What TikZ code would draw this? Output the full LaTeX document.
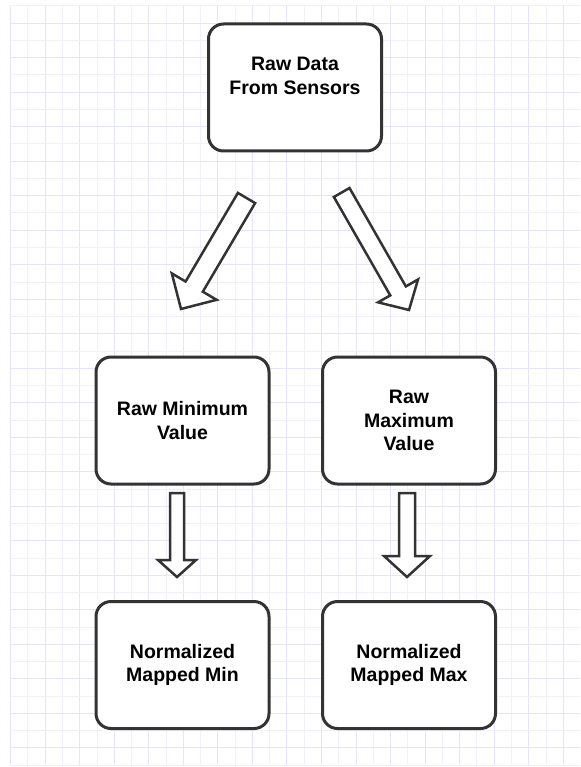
\documentclass[tikz,border=0pt]{standalone}
\usepackage{fontspec}
\setmainfont{Liberation Sans}
\usetikzlibrary{calc}
\definecolor{gridmaj}{RGB}{228,228,250}
\definecolor{gridmin}{RGB}{240,240,253}
\definecolor{edge}{RGB}{51,51,51}
\tikzset{
  box/.style={draw=edge, line width=3pt, rounded corners=15pt, fill=white,
    minimum width=173pt, minimum height=127pt, align=center, inner sep=0pt,
    font=\fontsize{19.5}{23.5}\selectfont\bfseries},
  barrow/.style={draw=edge, line width=2.5pt, fill=white, line join=miter},
  gmaj/.style={draw=gridmaj, line width=1pt},
  gmin/.style={draw=gridmin, line width=1pt},
}
% block arrow: #1 tail, #2 tip, #3 shaft half width, #4 head half width, #5 head length
\newcommand\blockarrow[5]{%
  \coordinate (ba-h) at ($(#2)!#5!(#1)$);
  \draw[barrow] ($(#1)!#3!90:(#2)$) -- ($(ba-h)!#3!90:(#2)$) -- ($(ba-h)!#4!90:(#2)$)
    -- (#2) -- ($(ba-h)!#4!-90:(#2)$) -- ($(ba-h)!#3!-90:(#2)$) -- ($(#1)!#3!-90:(#2)$) -- cycle;}
\begin{document}
\begin{tikzpicture}[x=1pt,y=-1pt]
\useasboundingbox (0,0) rectangle (580,767);
\fill[white] (0,0) rectangle (580,767);
% grid
\foreach \k in {0,...,32}{
  \pgfmathsetmacro\gx{10.67+\k*17.27}
  \pgfmathparse{int(mod(\k,2))}
  \ifnum\pgfmathresult=0 \draw[gmaj] (\gx,6) -- (\gx,765);
  \else \draw[gmin] (\gx,6) -- (\gx,765); \fi
}
\foreach \k in {0,...,44}{
  \pgfmathsetmacro\gy{6+\k*17.25}
  \pgfmathparse{int(mod(\k,2))}
  \ifnum\pgfmathresult=1 \draw[gmaj] (10.67,\gy) -- (580,\gy);
  \else \draw[gmin] (10.67,\gy) -- (580,\gy); \fi
}
% boxes
\node[box] (raw)  at (295,87.5)  {Raw Data\\From Sensors\\\mbox{}};
\node[box] (minv) at (182.5,420.5) {Raw Minimum\\Value};
\node[box] (maxv) at (409,420.5) {Raw\\Maximum\\Value};
\node[box] (nmin) at (182.5,665) {Normalized\\Mapped Min};
\node[box] (nmax) at (409,665) {Normalized\\Mapped Max};
% arrow ends
\coordinate (a1s) at (246.5,198);
\coordinate (a1e) at (181,309);
\coordinate (a2s) at (341.7,192.5);
\coordinate (a2e) at (409,310);
\coordinate (a3s) at ($(minv.south)+(-5.5,7.5)$);
\coordinate (a3e) at ($(minv.south)+(-5.5,91.5)$);
\coordinate (a4s) at ($(maxv.south)+(-2,7.5)$);
\coordinate (a4e) at ($(maxv.south)+(-2,91.5)$);
\blockarrow{a1s}{a1e}{10pt}{26pt}{26pt}
\blockarrow{a2s}{a2e}{9pt}{23pt}{22pt}
\blockarrow{a3s}{a3e}{7pt}{19pt}{17pt}
\blockarrow{a4s}{a4e}{8pt}{23pt}{21pt}
\end{tikzpicture}
\end{document}
